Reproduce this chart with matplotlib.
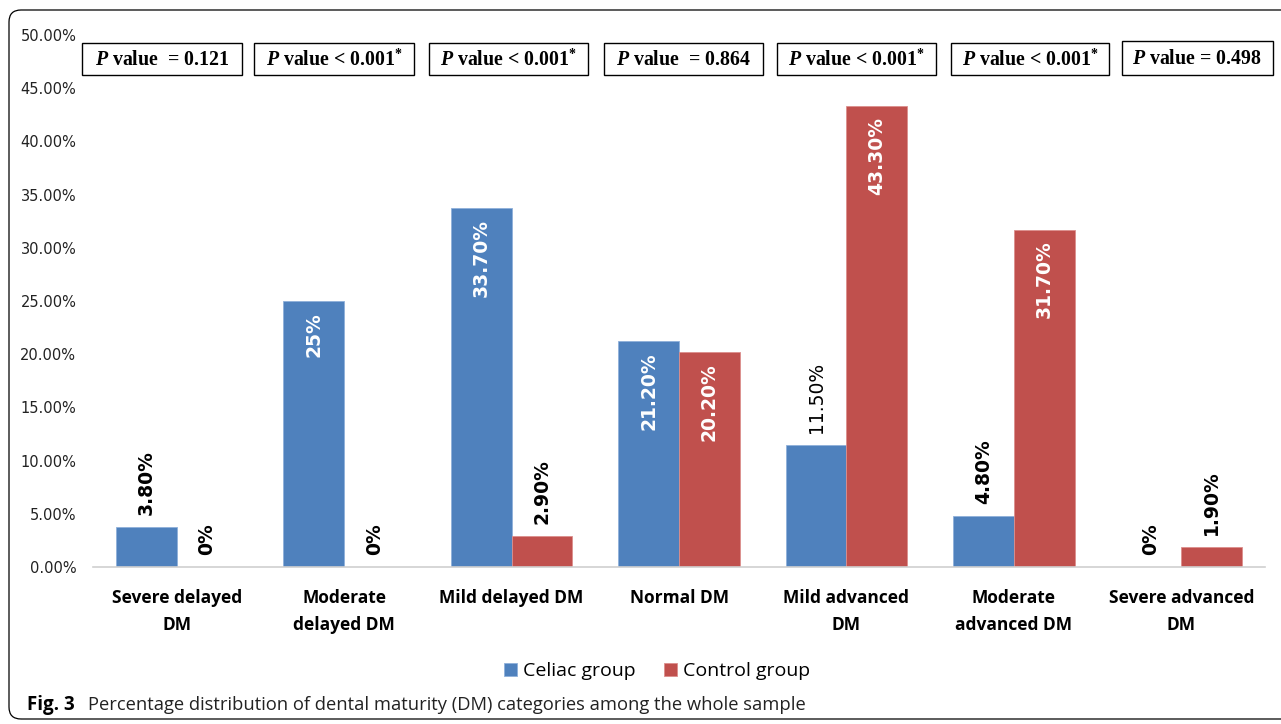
import matplotlib
matplotlib.use("Agg")
import matplotlib.pyplot as plt
import numpy as np
from matplotlib.patches import Rectangle, FancyBboxPatch
from matplotlib.transforms import IdentityTransform

# ---- data ----
categories = ["Severe delayed\nDM", "Moderate\ndelayed DM", "Mild delayed DM",
              "Normal DM", "Mild advanced\nDM", "Moderate\nadvanced DM",
              "Severe advanced\nDM"]
celiac = [3.8, 25.0, 33.7, 21.2, 11.5, 4.8, 0.0]
control = [0.0, 0.0, 2.9, 20.2, 43.3, 31.7, 1.9]
p_labels = [r"$\mathbfit{P}$ value  = 0.121",
            r"$\mathbfit{P}$ value < 0.001$^{*}$",
            r"$\mathbfit{P}$ value < 0.001$^{*}$",
            r"$\mathbfit{P}$ value  = 0.864",
            r"$\mathbfit{P}$ value < 0.001$^{*}$",
            r"$\mathbfit{P}$ value < 0.001$^{*}$",
            r"$\mathbfit{P}$ value = 0.498"]
yticks = [0, 5, 10, 15, 20, 25, 30, 35, 40, 45, 50]

# ---- styling ----
BLUE = "#4F81BD"
RED = "#C0504D"
plt.rcParams["mathtext.fontset"] = "custom"
plt.rcParams["mathtext.rm"] = "Liberation Serif:bold"
plt.rcParams["mathtext.bfit"] = "Liberation Serif:italic:bold"
plt.rcParams["mathtext.it"] = "Liberation Serif:italic:bold"
plt.rcParams["mathtext.bf"] = "Liberation Serif:bold"

# label placement: inside the bar top (white) or above it (black)
celiac_inside = [False, True, True, True, False, False, False]
control_inside = [False, False, False, True, True, True, False]
celiac_weight = ["bold", "bold", "bold", "bold", "normal", "bold", "bold"]
control_weight = ["bold"] * 7

# p-value box extents (x in category units, y in percent)
p_boxes = [(-0.565, 0.387, 46.24, 49.25), (0.464, 1.417, 46.24, 49.25),
           (1.506, 2.458, 46.24, 49.25), (2.554, 3.500, 46.24, 49.25),
           (3.583, 4.536, 46.24, 49.25), (4.625, 5.571, 46.24, 49.25),
           (5.643, 6.548, 46.24, 49.44)]

fig = plt.figure(figsize=(12.81, 7.24), dpi=100)
ax = fig.add_axes([93 / 1281, 1 - 567 / 724, (1265 - 93) / 1281, (567 - 35) / 724])

x = np.arange(len(categories))
w = 0.363
b1 = ax.bar(x - w / 2, celiac, w, color=BLUE, edgecolor="#8FB0DA", linewidth=0.6,
            label="Celiac group")
b2 = ax.bar(x + w / 2, control, w, color=RED, edgecolor="#DC8F8D", linewidth=0.6,
            label="Control group")

ax.set_xlim(-0.5, len(categories) - 0.5)
ax.set_ylim(0, 50)
ax.set_yticks(yticks)
ax.set_yticklabels([f"{v:.2f}%" for v in yticks], fontsize=10.5,
                   family="DejaVu Sans", color="#222222")
ax.set_xticks(x)
ax.set_xticklabels(categories, fontsize=12.5, fontweight="bold", family="Open Sans",
                   linespacing=1.65)
ax.tick_params(axis="both", length=0)
ax.tick_params(axis="y", pad=12)
ax.tick_params(axis="x", pad=16)
for s in ["top", "right", "left"]:
    ax.spines[s].set_visible(False)
ax.spines["bottom"].set_color("#D0D0D0")
ax.spines["bottom"].set_linewidth(1.2)


def fmt(v):
    return f"{int(v)}%" if float(v).is_integer() else f"{v:.2f}%"


def add_labels(bars, vals, inside, weights):
    for bar, v, ins, wt in zip(bars, vals, inside, weights):
        cx = bar.get_x() + bar.get_width() / 2
        if ins:
            ax.annotate(fmt(v), (cx, v), xytext=(0, -11), textcoords="offset pixels",
                        rotation=90, ha="center", va="top", color="white",
                        fontsize=13.5, fontweight=wt, family="DejaVu Sans")
        else:
            ax.annotate(fmt(v), (cx, v), xytext=(0, 12), textcoords="offset pixels",
                        rotation=90, ha="center", va="bottom", color="black",
                        fontsize=13.5, fontweight=wt, family="DejaVu Sans")


add_labels(b1, celiac, celiac_inside, celiac_weight)
add_labels(b2, control, control_inside, control_weight)

# p-value boxes
for (x0, x1, y0, y1), lab in zip(p_boxes, p_labels):
    ax.add_patch(Rectangle((x0, y0), x1 - x0, y1 - y0, facecolor="white",
                           edgecolor="black", linewidth=1.0, clip_on=False, zorder=5))
    ax.text((x0 + x1) / 2, (y0 + y1) / 2 - 0.1, lab, ha="center", va="center",
            fontsize=14.3, family="Liberation Serif", fontweight="bold",
            zorder=6, clip_on=False)

# legend
leg = fig.legend(handles=[b1, b2], loc="center", bbox_to_anchor=(657 / 1281, 1 - 671 / 724),
                 ncol=2, frameon=False, handlelength=0.65, handleheight=0.65,
                 handletextpad=0.3, columnspacing=1.5,
                 prop={"family": "Open Sans", "size": 14})

# caption
fig.text(27 / 1281, 1 - 705 / 724, "Fig. 3", fontsize=13.5, fontweight="bold",
         family="Open Sans", va="center", ha="left")
fig.text(88 / 1281, 1 - 705 / 724,
         "Percentage distribution of dental maturity (DM) categories among the whole sample",
         fontsize=13.2, family="Open Sans", va="center", ha="left", color="#222222")

# rounded outer frame
frame = FancyBboxPatch((9, 5), 1320, 709, boxstyle="round,pad=0,rounding_size=12",
                       transform=IdentityTransform(), facecolor="none",
                       edgecolor="black", linewidth=0.9)
fig.patches.append(frame)

fig.savefig("out.png", dpi=100)
